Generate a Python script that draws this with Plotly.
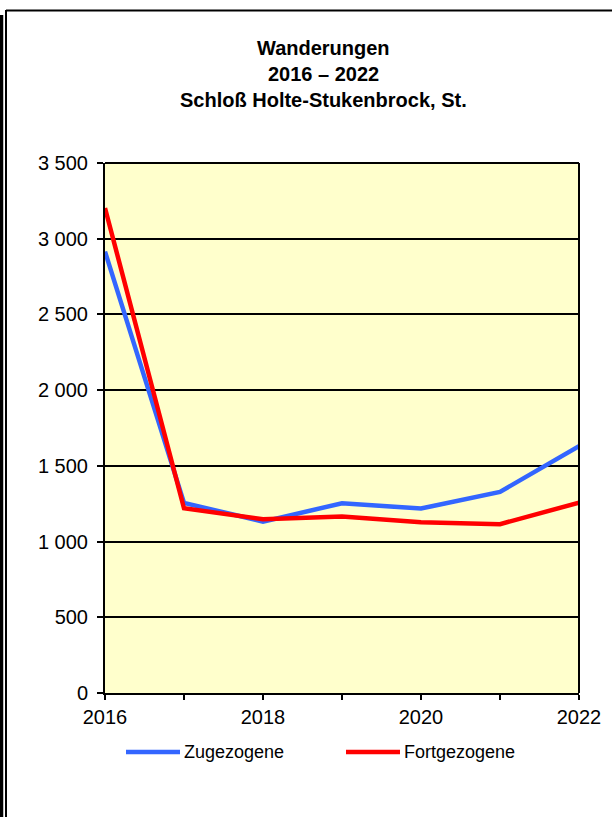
import plotly.graph_objects as go

years = [2016, 2017, 2018, 2019, 2020, 2021, 2022]
zugezogene = [2915, 1255, 1132, 1253, 1218, 1328, 1630]
fortgezogene = [3203, 1220, 1147, 1165, 1127, 1115, 1257]
series_names = ["Zugezogene", "Fortgezogene"]
series_colors = ["#3366FF", "#FF0000"]
y_ticks = [0, 500, 1000, 1500, 2000, 2500, 3000, 3500]
y_ticktext = ["0", "500", "1 000", "1 500", "2 000", "2 500", "3 000", "3 500"]
x_ticktext = ["2016", "", "2018", "", "2020", "", "2022"]
title_lines = ["Wanderungen", "2016 – 2022", "Schloß Holte-Stukenbrock, St."]

W, H = 612, 817
L, R, T, B = 105, 579, 163, 693

def px(x):
    return (x - L) / (R - L)

def py(y):
    return (B - y) / (B - T)

fig = go.Figure()
for name, vals, col in zip(series_names, [zugezogene, fortgezogene], series_colors):
    fig.add_trace(go.Scatter(x=years, y=vals, mode="lines", name=name,
                             line=dict(color=col, width=4.5), showlegend=False))

font = "Liberation Sans, Arial, sans-serif"
shapes = []
annotations = []
# outer frame
shapes.append(dict(type="line", xref="paper", yref="paper", x0=px(6), x1=px(700), y0=py(10.5), y1=py(10.5),
                   line=dict(color="black", width=2)))
shapes.append(dict(type="line", xref="paper", yref="paper", x0=px(6), x1=px(6), y0=py(10), y1=py(830),
                   line=dict(color="black", width=2)))
shapes.append(dict(type="line", xref="paper", yref="paper", x0=px(1.5), x1=px(1.5), y0=py(15), y1=py(830),
                   line=dict(color="black", width=3.5)))
# plot area top/right border
shapes.append(dict(type="line", xref="paper", yref="paper", x0=0, x1=1, y0=1, y1=1,
                   line=dict(color="black", width=2)))
shapes.append(dict(type="line", xref="paper", yref="paper", x0=1, x1=1, y0=0, y1=1,
                   line=dict(color="black", width=2)))

# legend
leg_y = 752
for (x0, x1, tx), name, col in zip([(126, 180, 182), (346, 400, 402)], series_names, series_colors):
    shapes.append(dict(type="line", xref="paper", yref="paper", x0=px(x0), x1=px(x1), y0=py(leg_y), y1=py(leg_y),
                       line=dict(color=col, width=4.5)))
    annotations.append(dict(text=name, xref="paper", yref="paper", x=px(tx), y=py(leg_y), xanchor="left",
                            yanchor="middle", showarrow=False, font=dict(family=font, size=18, color="black")))

# title
for i, (line, yy) in enumerate(zip(title_lines, [48, 74, 100])):
    annotations.append(dict(text="<b>" + line + "</b>", xref="paper", yref="paper", x=px(323), y=py(yy),
                            xanchor="center", yanchor="middle", showarrow=False,
                            font=dict(family=font, size=20, color="black")))

fig.update_layout(
    width=W, height=H,
    margin=dict(l=L, r=W - R, t=T, b=H - B, pad=0),
    paper_bgcolor="white", plot_bgcolor="#FFFFCC",
    shapes=shapes, annotations=annotations,
    font=dict(family=font, size=20, color="black"),
    xaxis=dict(range=[2016, 2022], tickvals=years, ticktext=x_ticktext, showgrid=False,
               showline=True, linecolor="black", linewidth=2, ticks="outside", ticklen=5,
               tickwidth=1.5, tickcolor="black", zeroline=False, tickfont=dict(size=20)),
    yaxis=dict(range=[0, 3500], tickvals=y_ticks, ticktext=y_ticktext, showgrid=True,
               gridcolor="black", gridwidth=1.8, showline=True, linecolor="black", linewidth=2,
               ticks="outside", ticklen=6, tickwidth=1.5, tickcolor="black", zeroline=False,
               ticklabelstandoff=5, tickfont=dict(size=20)),
)

fig.write_html("out.html", config={"displayModeBar": False},
               post_script="document.body.style.margin='0';document.body.style.overflow='hidden';")
